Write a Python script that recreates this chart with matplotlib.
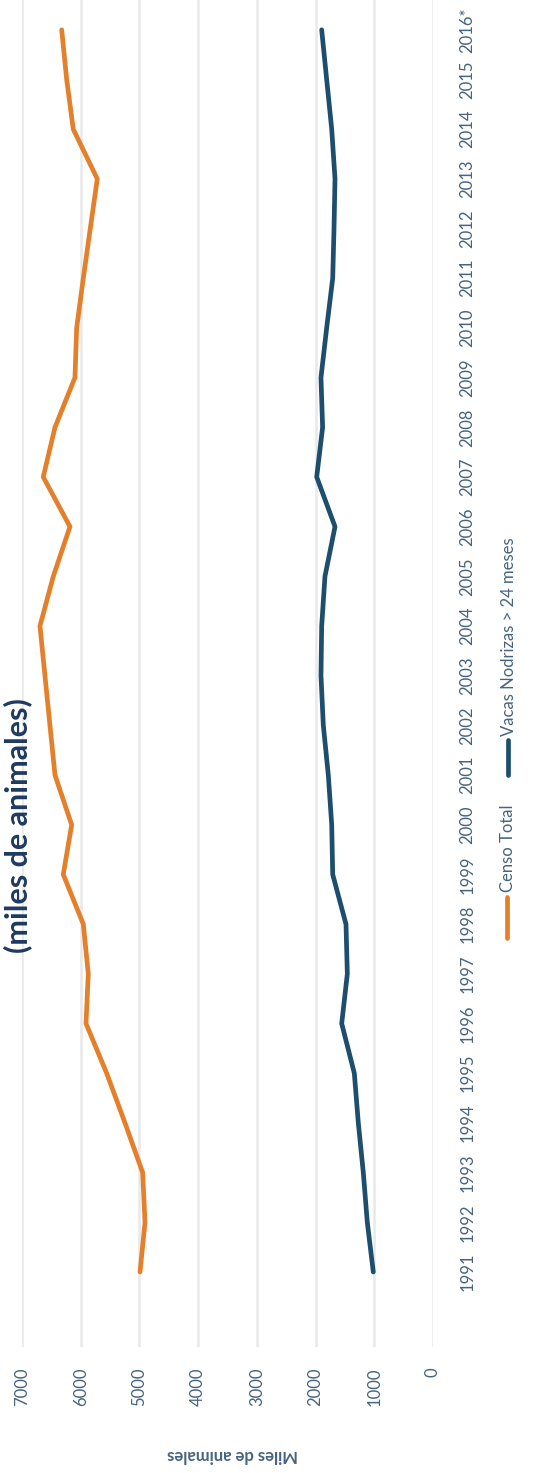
import matplotlib
matplotlib.use("Agg")
import matplotlib.pyplot as plt
import numpy as np

# ---- data ----
years = ['1991', '1992', '1993', '1994', '1995', '1996', '1997', '1998', '1999', '2000',
         '2001', '2002', '2003', '2004', '2005', '2006', '2007', '2008', '2009', '2010',
         '2011', '2012', '2013', '2014', '2015', '2016*']
censo_total = [4990, 4905, 4945, 5246, 5558, 5910, 5871, 5956, 6297, 6154,
               6438, 6524, 6609, 6694, 6467, 6183, 6638, 6438, 6098, 6069,
               5956, 5837, 5718, 6127, 6239, 6324]
vacas_nodrizas = [1017, 1119, 1187, 1272, 1340, 1555, 1459, 1482, 1708, 1725,
                  1783, 1868, 1908, 1896, 1840, 1669, 1981, 1880, 1908, 1811,
                  1708, 1686, 1669, 1725, 1811, 1896]
value_ticks = [0, 1000, 2000, 3000, 4000, 5000, 6000, 7000]
series_names = ['Censo Total', 'Vacas Nodrizas > 24 meses']
title_text = '(miles de animales)'
axis_label = 'Miles de animales'

# ---- style ----
W, H = 536, 1473
DPI = 100
ORANGE = '#E4802C'
NAVY = '#1D4E6E'
TXT = '#46647F'
GRID = '#E9E9E9'
TITLE_C = '#1F3A60'
plt.rcParams['font.family'] = ['Lato', 'DejaVu Sans']

fig = plt.figure(figsize=(W / DPI, H / DPI), dpi=DPI)
fig.patch.set_facecolor('white')

# main axes (chart rotated 90 degrees: values horizontal, years vertical)
ax_left, ax_right = 22, 433
ax_top, ax_bottom = 0, 1347
ax = fig.add_axes([ax_left / W, (H - ax_bottom) / H,
                   (ax_right - ax_left) / W, (ax_bottom - ax_top) / H])
ax.plot(censo_total, years, color=ORANGE, lw=3.4, solid_capstyle='round',
        solid_joinstyle='round', zorder=3)
ax.plot(vacas_nodrizas, years, color=NAVY, lw=3.4, solid_capstyle='round',
        solid_joinstyle='round', zorder=3)
ax.set_xlim(7000, 0)
ax.set_ylim(-1.51, 25.60)
ax.set_xticks(value_ticks)
ax.set_xticklabels([str(v) for v in value_ticks], rotation=90)
ax.yaxis.tick_right()
ax.set_yticks(range(len(years)))
ax.set_yticklabels(years, rotation=90)
ax.tick_params(axis='x', length=0, pad=15, labelsize=12, labelcolor=TXT)
ax.tick_params(axis='y', length=0, pad=19, labelsize=12, labelcolor=TXT)
for lab in ax.get_yticklabels():
    lab.set_verticalalignment('center')
ax.grid(axis='x', color=GRID, lw=1.8)
ax.grid(axis='y', visible=False)
ax.set_axisbelow(True)
for s in ax.spines.values():
    s.set_visible(False)
ax.set_facecolor('none')
ax.set_xlabel(axis_label, rotation=180, fontsize=12, fontweight='bold', color=TXT)
ax.xaxis.set_label_coords((233 - ax_left) / (ax_right - ax_left), -(1455 - ax_bottom) / (ax_bottom - ax_top))
ax.xaxis.label.set_verticalalignment('center')

# overlay in pixel coordinates for the rotated title and legend
ov = fig.add_axes([0, 0, 1, 1])
ov.set_xlim(0, W)
ov.set_ylim(H, 0)
ov.axis('off')
ov.patch.set_alpha(0)

ov.text(18, 826, title_text, rotation=90, ha='center', va='center',
        fontsize=22, fontweight='bold', color=TITLE_C)

# legend (rotated)
ov.plot([507, 507], [897, 938], color=ORANGE, lw=3.4, solid_capstyle='round')
ov.text(508, 892, series_names[0], rotation=90, ha='center', va='bottom',
        fontsize=12, color=TXT)
ov.plot([508, 508], [740, 775], color=NAVY, lw=3.4, solid_capstyle='round')
ov.text(509, 736, series_names[1], rotation=90, ha='center', va='bottom',
        fontsize=12, color=TXT)

fig.savefig('out.png', dpi=DPI)
